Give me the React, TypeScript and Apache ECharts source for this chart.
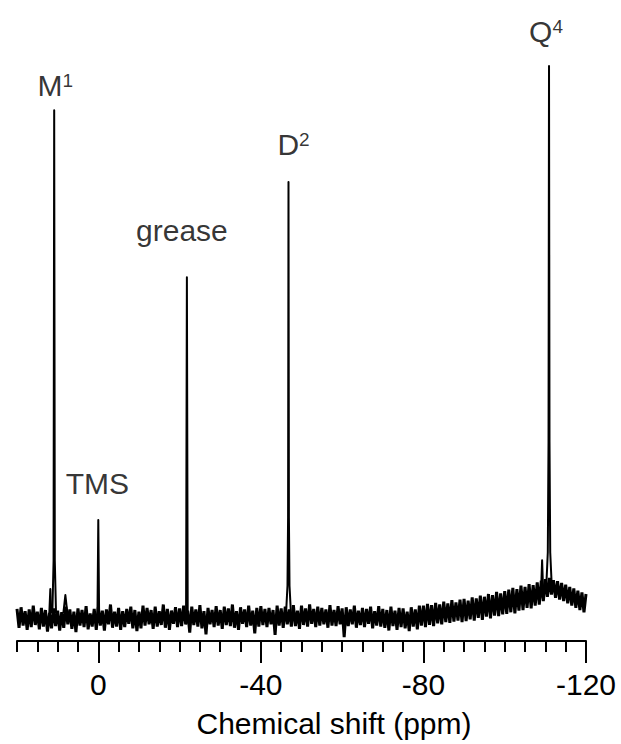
import React, { useEffect, useRef } from "react";
import * as echarts from "echarts";

// Sampling grid of the recorded baseline (ppm)
const ppmStart = 20;
const ppmStep = -0.5;

// Baseline / noise intensities, one per 0.5 ppm from 20 to -120 ppm
const noiseValues = [
  1.8, -1.6, 2.1, -1.2, 1.4, -2.0, 1.7, -1.5, 2.4, -1.1, 1.3, -1.9, 2.0, -1.4, 1.6, -2.3, 1.1, -1.7, 1.9, -1.3,
  1.5, -2.1, 1.2, -1.6, 2.2, -1.0, 1.7, -1.8, 1.3, -2.4, 1.9, -1.2, 1.6, -1.5, 2.3, -1.9, 1.0, -1.4, 1.8, -2.0,
  2.1, -1.2, 1.5, -2.1, 1.7, -1.0, 2.6, -1.6, 1.3, -1.4, 2.0, -2.0, 1.4, -1.5, 1.8, -0.9, 2.2, -1.7, 1.6, -2.2,
  1.3, -1.7, 2.4, -1.2, 2.0, -1.0, 1.6, -1.8, 2.2, -1.4, 1.4, -1.1, 2.6, -1.6, 1.8, -2.0, 1.5, -0.9, 2.1, -1.5,
  1.9, -1.3, 2.4, -1.0, 1.5, -2.5, 2.2, -1.1, 1.7, -1.4, 2.5, -1.7, 1.4, -2.8, 2.0, -1.0, 1.6, -1.5, 2.3, -1.2,
  1.6, -1.8, 2.2, -1.1, 1.9, -1.3, 2.6, -1.6, 1.4, -2.0, 2.1, -0.9, 1.7, -1.5, 2.4, -1.2, 1.5, -2.6, 2.0, -1.4,
  2.3, -1.1, 1.8, -1.5, 2.0, -1.0, 1.6, -2.9, 2.4, -1.2, 1.9, -1.6, 2.2, -1.0, 1.7, -1.4, 2.5, -1.3, 1.5, -1.8,
  2.4, -1.1, 1.9, -1.4, 2.6, -0.9, 1.8, -1.5, 2.2, -1.2, 2.0, -1.0, 1.7, -1.6, 2.5, -1.2, 1.6, -1.3, 2.3, -1.0,
  1.9, -3.3, 2.1, -1.3, 1.7, -1.0, 2.4, -1.6, 1.5, -1.1, 2.0, -1.5, 1.8, -0.9, 2.2, -1.7, 1.4, -1.2, 2.3, -1.4,
  1.8, -1.6, 1.6, -2.1, 2.2, -1.3, 1.5, -2.0, 2.0, -1.5, 1.9, -1.7, 1.3, -2.2, 2.1, -1.4, 1.7, -1.9, 2.4, -1.2,
  2.4, -1.5, 2.7, -1.1, 2.5, -1.3, 2.9, -0.8, 2.6, -1.0, 3.1, -0.6, 2.8, -0.7, 3.4, -0.5, 3.0, -0.3, 3.5, -0.6,
  3.6, -0.4, 3.3, -0.1, 3.9, -0.3, 3.7, 0.2, 4.2, -0.2, 4.0, 0.4, 4.5, 0.1, 4.3, 0.6, 4.9, 0.5, 4.6, 0.8,
  5.0, 0.9, 5.3, 1.2, 5.6, 1.0, 5.4, 1.5, 6.0, 1.6, 5.8, 2.0, 6.3, 1.9, 6.1, 2.4, 6.6, 2.6, 6.9, 3.2,
  7.2, 4.0, 7.4, 4.4, 7.0, 3.8, 6.8, 3.5, 6.5, 3.2, 6.2, 2.8, 5.8, 2.4, 5.5, 2.0, 5.1, 1.6, 4.8, 1.2, 4.5,
];

// Sharp resonances: [ppm, intensity]
const m1SidePeak = [[12.05, 1], [11.8, 5.4], [11.55, 1]];
const m1Peak = [[11.3, 1], [11.0, 10.5], [10.85, 92], [10.7, 10.5], [10.4, 1]];
const m1Bump = [[8.6, 1], [8.1, 4.3], [7.6, 1]];
const tmsPeak = [[0.2, 1], [0, 17.9], [-0.2, 1]];
const greasePeak = [[-21.6, 1], [-21.8, 61.8], [-22.0, 1]];
const d2Peak = [[-46.2, 1], [-46.55, 6], [-46.7, 18.4], [-46.8, 79], [-46.9, 18.4], [-47.05, 6], [-47.4, 1]];
const q4SidePeak = [[-108.9, 4], [-109.2, 10.6], [-109.5, 4]];
const q4Peak = [[-110.2, 5.5], [-110.6, 12], [-110.78, 32], [-110.9, 100], [-111.02, 32], [-111.2, 12], [-111.6, 5.5]];

// Peak annotations
const labelNames = ["M", "TMS", "grease", "D", "Q"];
const labelSups = ["1", "", "", "2", "4"];
const labelPpm = [10.85, 0, -21.8, -46.8, -110.9];
const labelValues = [92, 17.9, 61.8, 79, 100];

// Axis
const majorTicks = [0, -40, -80, -120];
const xTitle = "Chemical shift (ppm)";

// label placement styling (distance above peak, horizontal nudge)
const labelDistance = [9, 21, 31, 22, 19];
const labelNudge = [1, -1, -5, 5, -3];

const FONT = "'Liberation Sans', Arial, Helvetica, sans-serif";

export default function App() {
  const ref = useRef<HTMLDivElement>(null);

  useEffect(() => {
    if (!ref.current) return;
    const chart = echarts.init(ref.current, undefined, { renderer: "svg" });

    const noiseData = noiseValues.map((v, i) => [ppmStart + ppmStep * i, v]);

    const peakSets = [m1SidePeak, m1Peak, m1Bump, tmsPeak, greasePeak, d2Peak, q4SidePeak, q4Peak];
    const peakSeries = peakSets.map((d) => ({
      type: "line",
      data: d,
      xAxisIndex: 0,
      yAxisIndex: 0,
      symbol: "none",
      clip: false,
      silent: true,
      z: 3,
      lineStyle: { color: "#000", width: 2, join: "round" },
    }));

    const labelData = labelNames.map((n, i) => ({
      value: [labelPpm[i], labelValues[i]],
      label: {
        formatter: labelSups[i] ? `{t|${n}}{s|${labelSups[i]}}` : `{t|${n}}`,
        distance: labelDistance[i],
        offset: [labelNudge[i], 0],
      },
    }));

    chart.setOption({
      animation: false,
      backgroundColor: "#fff",
      grid: { left: 17, right: 35, top: 66, bottom: 103, containLabel: false },
      xAxis: [
        {
          type: "value",
          min: -120,
          max: 20,
          inverse: true,
          interval: 40,
          position: "bottom",
          axisLine: { show: true, onZero: false, lineStyle: { color: "#000", width: 2 } },
          axisTick: {
            show: true,
            inside: false,
            length: 22,
            customValues: majorTicks,
            lineStyle: { color: "#000", width: 2 },
          },
          axisLabel: {
            show: true,
            customValues: majorTicks,
            color: "#000",
            fontSize: 30,
            fontFamily: FONT,
            margin: 28,
            formatter: (v: number) => String(v),
          },
          splitLine: { show: false },
        },
        {
          type: "value",
          min: -120,
          max: 20,
          inverse: true,
          interval: 5,
          position: "bottom",
          axisLine: { show: false, onZero: false },
          axisTick: { show: true, inside: false, length: 11, lineStyle: { color: "#000", width: 2 } },
          axisLabel: { show: false },
          splitLine: { show: false },
        },
      ],
      yAxis: {
        type: "value",
        min: -4,
        max: 100,
        show: false,
        splitLine: { show: false },
      },
      graphic: [
        {
          type: "text",
          x: 334,
          y: 723,
          style: {
            text: xTitle,
            fontSize: 30,
            fontFamily: FONT,
            fill: "#000",
            align: "center",
            verticalAlign: "middle",
            textAlign: "center",
            textVerticalAlign: "middle",
          },
        },
      ],
      series: [
        {
          type: "line",
          data: noiseData,
          symbol: "none",
          silent: true,
          z: 2,
          lineStyle: { color: "#000", width: 3 },
        },
        ...peakSeries,
        {
          type: "scatter",
          data: labelData,
          symbol: "circle",
          symbolSize: 1,
          silent: true,
          z: 5,
          itemStyle: { color: "rgba(0,0,0,0)" },
          label: {
            show: true,
            position: "top",
            color: "#000",
            fontFamily: FONT,
            rich: {
              t: { fontSize: 30, fontFamily: FONT, color: "#000" },
              s: { fontSize: 19, fontFamily: FONT, color: "#000", verticalAlign: "top" },
            },
          },
        },
      ],
    });

    return () => chart.dispose();
  }, []);

  return (
    <div
      ref={ref}
      style={{ position: "fixed", left: 0, top: 0, width: 621, height: 744, background: "#fff" }}
    />
  );
}
